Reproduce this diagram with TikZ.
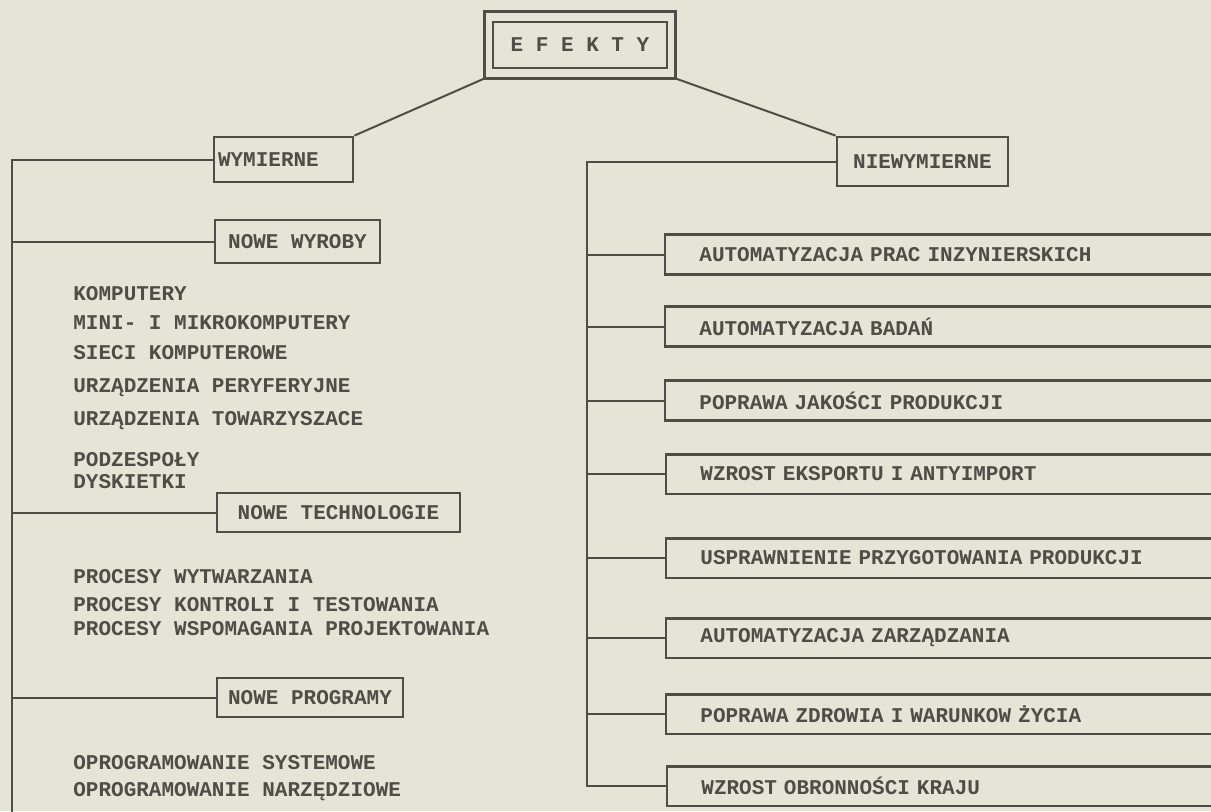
\documentclass[tikz,border=0pt]{standalone}
\usepackage{fontspec}
\setmonofont{Liberation Mono}
\definecolor{paper}{RGB}{228,228,215}
\definecolor{ink}{RGB}{78,78,70}
\begin{document}
\begin{tikzpicture}[x=0.5pt,y=-0.5pt,
  every node/.style={font=\ttfamily\bfseries\fontsize{10.5}{12}\selectfont, text=ink},
  conn/.style={draw=ink, line width=1pt},
  labelbox/.style={draw=ink, line width=1.4pt, inner sep=0pt},
  rbox/.style={anchor=west, inner sep=0pt, inner xsep=17pt, minimum height=19.5pt, text width=260pt, align=left},
  rborder/.style={draw=ink, line width=1.4pt},
  item/.style={anchor=west, inner sep=0pt}
]
\useasboundingbox (0,0) rectangle (1211,811);
\fill[paper] (0,0) rectangle (1211,811);
\clip (0,0) rectangle (1211,811);

% top
\node[labelbox, minimum width=87pt, minimum height=23pt] (ef) at (580,45) {E F E K T Y};
\coordinate (efsw) at ([shift={(-3.5pt,-4.5pt)}]ef.south west);
\coordinate (efse) at ([shift={(3.5pt,-4.5pt)}]ef.south east);
\coordinate (efne) at ([shift={(3.5pt,4.5pt)}]ef.north east);
\draw[ink, line width=1.4pt] (efsw) rectangle (efne);

% second level
\node[labelbox, minimum width=69.5pt, minimum height=22.5pt, text width=65.5pt, inner xsep=2pt, align=left] (wym) at (283.5,159.5) {WYMIERNE};
\node[labelbox, minimum width=85.5pt, minimum height=24.5pt] (niew) at (922.5,161.5) {NIEWYMIERNE};
\draw[conn] (efsw) -- (wym.north east);
\draw[conn] (efse) -- (niew.north west);

% left branch
\coordinate (lb) at (12,815);
\node[labelbox, minimum width=82.5pt, minimum height=21.5pt] (nwyr) at (297.5,241.5) {NOWE WYROBY};
\node[labelbox, minimum width=121.5pt, minimum height=19.5pt] (ntech) at (338.5,512.5) {NOWE TECHNOLOGIE};
\node[labelbox, minimum width=93pt, minimum height=19.5pt] (nprog) at (310,697.5) {NOWE PROGRAMY};
\draw[conn] (wym.west) -| (lb);
\draw[conn] (nwyr.west) -- (nwyr.west -| lb);
\draw[conn] (ntech.west) -- (ntech.west -| lb);
\draw[conn] (nprog.west) -- (nprog.west -| lb);

\node[item] (i1) at (73,294) {KOMPUTERY};
\node[item] (i2) at (73,323) {MINI- I MIKROKOMPUTERY};
\node[item] (i3) at (73,353) {SIECI KOMPUTEROWE};
\node[item] (i4) at (73,388) {URZĄDZENIA PERYFERYJNE};
\node[item] (i5) at (73,421) {URZĄDZENIA TOWARZYSZACE};
\node[item] (i6) at (73,460) {PODZESPOŁY};
\node[item] (i7) at (73,482) {DYSKIETKI};
\node[item] (i8) at (73,577) {PROCESY WYTWARZANIA};
\node[item] (i9) at (73,605) {PROCESY KONTROLI I TESTOWANIA};
\node[item] (i10) at (73,629) {PROCESY WSPOMAGANIA PROJEKTOWANIA};
\node[item] (i11) at (73,763) {OPROGRAMOWANIE SYSTEMOWE};
\node[item] (i12) at (73,792) {OPROGRAMOWANIE NARZĘDZIOWE};

% right branch
\node[rbox] (b1) at (665,254.5) {AUTOMATYZACJA PRAC INZYNIERSKICH};
\node[rbox] (b2) at (665,326.5) {AUTOMATYZACJA BADAŃ};
\node[rbox] (b3) at (665,400.5) {POPRAWA JAKOŚCI PRODUKCJI};
\node[rbox] (b4) at (666,474) {WZROST EKSPORTU I ANTYIMPORT};
\node[rbox] (b5) at (666,558) {USPRAWNIENIE PRZYGOTOWANIA PRODUKCJI};
\node[rbox] (b6) at (666,638) {AUTOMATYZACJA ZARZĄDZANIA};
\node[rbox] (b7) at (666,714) {POPRAWA ZDROWIA I WARUNKOW ŻYCIA};
\node[rbox] (b8) at (667,786) {WZROST OBRONNOŚCI KRAJU};
\foreach \b in {b1,b2,b3,b4,b5,b6,b7,b8}{
  \draw[rborder] (\b.north east) -- (\b.north west) -- (\b.south west) -- (\b.south east);
}
\coordinate (rb) at (587,786);
\draw[conn] (niew.west) -| (rb) -- (b8.west);
\foreach \b in {b1,b2,b3,b4,b5,b6,b7}{
  \draw[conn] (\b.west) -- (\b.west -| rb);
}
\end{tikzpicture}
\end{document}
